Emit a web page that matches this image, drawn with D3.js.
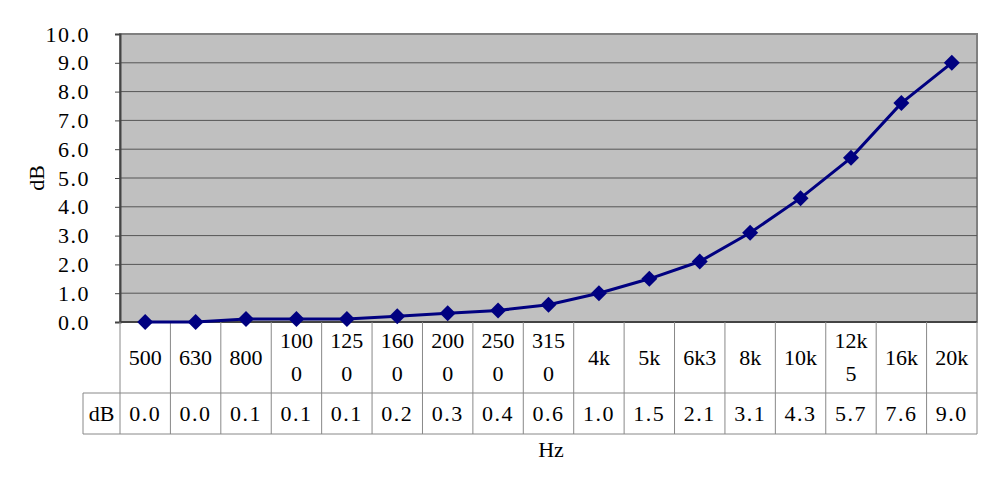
<!DOCTYPE html>
<html>
<head>
<meta charset="utf-8">
<script src="https://cdn.jsdelivr.net/npm/d3@7"></script>
<style>
  body { margin: 0; background: #fff; }
  text { font-family: "Liberation Serif", "DejaVu Serif", serif; fill: #000; }
</style>
</head>
<body>
<div id="chart"></div>
<script>
  var categories = ["500", "630", "800", "1000", "1250", "1600", "2000", "2500", "3150",
    "4k", "5k", "6k3", "8k", "10k", "12k5", "16k", "20k"];
  var values = [0.0, 0.0, 0.1, 0.1, 0.1, 0.2, 0.3, 0.4, 0.6, 1.0, 1.5, 2.1, 3.1, 4.3, 5.7, 7.6, 9.0];
  var yTicks = [0, 1, 2, 3, 4, 5, 6, 7, 8, 9, 10];
  var seriesName = "dB";

  var W = 991, H = 485;
  var plotL = 120, plotR = 977, plotT = 34, plotB = 322;
  var rowCat = 393, rowVal = 434, tableLeft = 83;

  var svg = d3.select('#chart').append('svg')
    .attr('width', W).attr('height', H);

  var x = d3.scaleBand().domain(categories).range([plotL, plotR]);
  var y = d3.scaleLinear().domain([0, 10]).range([plotB, plotT]);

  // plot area
  svg.append('rect')
    .attr('x', plotL).attr('y', plotT)
    .attr('width', plotR - plotL).attr('height', plotB - plotT)
    .attr('fill', '#c0c0c0')
    .attr('stroke', '#808080').attr('stroke-width', 2);

  svg.append('g').selectAll('line')
    .data(yTicks.slice(1, -1))
    .enter().append('line')
    .attr('x1', plotL).attr('x2', plotR)
    .attr('y1', d => y(d)).attr('y2', d => y(d))
    .attr('stroke', '#555').attr('stroke-width', 1);

  // y axis
  var yAxis = svg.append('g')
    .attr('transform', 'translate(' + plotL + ',0)')
    .call(d3.axisLeft(y).tickValues(yTicks).tickSize(5).tickFormat(d3.format('.1f')));
  yAxis.select('.domain').attr('stroke', '#444').attr('stroke-width', 2);
  yAxis.selectAll('.tick line').attr('stroke', '#444');
  yAxis.selectAll('text')
    .attr('x', -30)
    .style('font-size', '22px')
    .style('letter-spacing', '1.5px')
    .style('font-family', '"Liberation Serif", serif')
    .attr('fill', '#000');

  svg.append('line')
    .attr('x1', plotL).attr('x2', plotR)
    .attr('y1', plotB).attr('y2', plotB)
    .attr('stroke', '#444').attr('stroke-width', 2);

  // data table
  var tbl = svg.append('g');
  var bounds = categories.map(c => x(c)).concat([plotR]);
  tbl.selectAll('line.v')
    .data(bounds)
    .enter().append('line')
    .attr('x1', d => d).attr('x2', d => d)
    .attr('y1', plotB).attr('y2', rowVal)
    .attr('stroke', '#888').attr('stroke-width', 1);
  tbl.append('line')
    .attr('x1', tableLeft).attr('x2', tableLeft)
    .attr('y1', rowCat).attr('y2', rowVal)
    .attr('stroke', '#888');
  [rowCat, rowVal].forEach(function (yy) {
    tbl.append('line')
      .attr('x1', tableLeft).attr('x2', plotR)
      .attr('y1', yy).attr('y2', yy)
      .attr('stroke', '#888');
  });

  categories.forEach(function (c) {
    var lines = c.match(/.{1,3}/g);
    var cy = (plotB + rowCat) / 2;
    var t = tbl.append('text')
      .attr('x', x(c) + x.bandwidth() / 2)
      .attr('text-anchor', 'middle')
      .style('font-size', '22px');
    lines.forEach(function (l, i) {
      t.append('tspan')
        .attr('x', x(c) + x.bandwidth() / 2)
        .attr('y', cy + 7 + (i - (lines.length - 1) / 2) * 33)
        .text(l);
    });
  });

  tbl.selectAll('text.val')
    .data(values)
    .enter().append('text')
    .attr('x', (d, i) => x(categories[i]) + x.bandwidth() / 2)
    .attr('y', (rowCat + rowVal) / 2 + 7)
    .attr('text-anchor', 'middle')
    .style('font-size', '22px')
    .style('letter-spacing', '1.5px')
    .text(d => d3.format('.1f')(d));

  tbl.append('text')
    .attr('x', (tableLeft + plotL) / 2)
    .attr('y', (rowCat + rowVal) / 2 + 7)
    .attr('text-anchor', 'middle')
    .style('font-size', '22px')
    .text(seriesName);

  // series
  var line = d3.line()
    .x((d, i) => x(categories[i]) + x.bandwidth() / 2)
    .y(d => y(d));
  svg.append('path')
    .datum(values)
    .attr('d', line)
    .attr('fill', 'none')
    .attr('stroke', '#000080')
    .attr('stroke-width', 3);

  svg.append('g').selectAll('path')
    .data(values)
    .enter().append('path')
    .attr('d', d3.symbol().type(d3.symbolSquare).size(128))
    .attr('transform', (d, i) => 'translate(' + (x(categories[i]) + x.bandwidth() / 2) + ',' + y(d) + ') rotate(45)')
    .attr('fill', '#000080');

  // axis titles
  svg.append('text')
    .attr('transform', 'translate(44,' + (plotT + plotB) / 2 + ') rotate(-90)')
    .attr('text-anchor', 'middle')
    .style('font-size', '22px')
    .text('dB');
  svg.append('text')
    .attr('x', 551).attr('y', 457)
    .attr('text-anchor', 'middle')
    .style('font-size', '22px')
    .text('Hz');
</script>
</body>
</html>
